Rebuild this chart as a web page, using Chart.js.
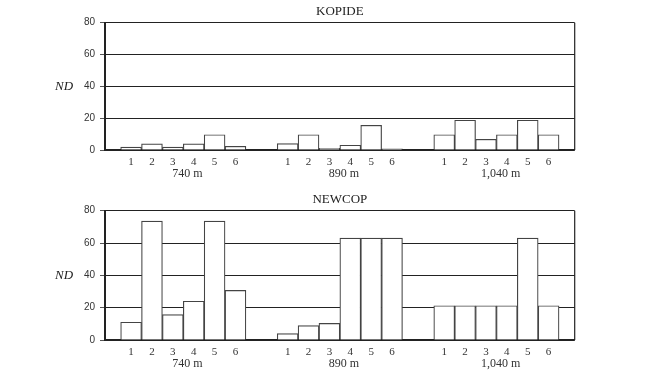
<!DOCTYPE html>
<html><head><meta charset="utf-8">
<script src="https://cdn.jsdelivr.net/npm/chart.js@4"></script>
<style>html,body{margin:0;padding:0;background:#fff;} .wrap{width:648px;height:190px;position:relative;} canvas{display:block;}</style>
</head><body>
<div class="wrap"><canvas id="c1" width="648" height="190"></canvas></div>
<div class="wrap"><canvas id="c2" width="648" height="190"></canvas></div>
<script>
// ---- data ----
const groupLabels = ['740 m', '890 m', '1,040 m'];
const siteLabels = ['1', '2', '3', '4', '5', '6'];
const yTickValues = [0, 20, 40, 60, 80];
const yAxisLabel = 'ND';

const kopide740  = [1.8, 3.8, 1.8, 3.8, 9.6, 2.3];
const kopide890  = [4, 9.6, 1, 3, 15.5, 0.8];
const kopide1040 = [9.6, 18.7, 6.7, 9.6, 18.7, 9.6];

const newcop740  = [11, 73.6, 15.7, 24, 73.6, 30.7];
const newcop890  = [3.9, 8.9, 10.3, 63, 63, 63];
const newcop1040 = [21.2, 21.2, 21.2, 21.2, 63, 21.2];

// ---- layout of the index axis (in bar units) ----
const EDGE = 0.75, GAP = 1.5, N = siteLabels.length;
const XMAX = 2 * EDGE + groupLabels.length * N + (groupLabels.length - 1) * GAP;
const groupStart = g => EDGE + g * (N + GAP);

function buildPoints(groups) {
  const pts = [];
  groups.forEach((vals, g) => vals.forEach((v, i) => pts.push({ x: groupStart(g) + i + 0.5, y: v })));
  return pts;
}
const tickVals = [];
groupLabels.forEach((_, g) => siteLabels.forEach((_, i) => tickVals.push(groupStart(g) + i + 0.5)));

const INK = '#222';
const extras = {
  id: 'extras',
  afterDraw(chart) {
    const { ctx, chartArea: a, scales: { x } } = chart;
    ctx.save();
    // right frame
    ctx.strokeStyle = INK; ctx.lineWidth = 1.2;
    ctx.beginPath(); ctx.moveTo(a.right, a.top); ctx.lineTo(a.right, a.bottom); ctx.stroke();
    // group labels
    ctx.fillStyle = '#333';
    ctx.font = '12px "Liberation Serif"';
    ctx.textAlign = 'center'; ctx.textBaseline = 'middle';
    groupLabels.forEach((lab, g) => {
      ctx.fillText(lab, x.getPixelForValue(groupStart(g) + N / 2 + 0.2), a.bottom + 24);
    });
    // y label
    ctx.font = 'italic 13px "Liberation Serif"';
    ctx.fillStyle = INK;
    ctx.fillText(yAxisLabel, a.left - 41, (a.top + a.bottom) / 2);
    ctx.restore();
  }
};

function makeChart(id, title, groups, padTop, padBottom) {
  return new Chart(document.getElementById(id), {
    type: 'bar',
    data: {
      datasets: [{
        data: buildPoints(groups),
        backgroundColor: '#fff',
        borderColor: '#444',
        borderWidth: 1.2,
        borderSkipped: 'start',
        barPercentage: 1,
        categoryPercentage: 1
      }]
    },
    options: {
      responsive: false,
      animation: false,
      events: [],
      layout: { padding: { left: 0, right: 73.3, top: 0, bottom: 0 } },
      plugins: {
        legend: { display: false },
        tooltip: { enabled: false },
        title: {
          display: true, text: title, fullSize: false,
          color: INK,
          font: { family: 'Liberation Serif', size: 13, weight: 'normal', lineHeight: 1.2 },
          padding: { top: padTop, bottom: padBottom }
        }
      },
      scales: {
        x: {
          type: 'linear', min: 0, max: XMAX, offset: false,
          grid: { display: false, drawTicks: false, offset: false },
          border: { display: true, color: INK, width: 1.5 },
          afterBuildTicks: s => { s.ticks = tickVals.map(v => ({ value: v })); },
          ticks: {
            autoSkip: false, maxRotation: 0, minRotation: 0, padding: 6.2,
            color: '#333',
            font: { family: 'Liberation Serif', size: 11, lineHeight: 1 },
            callback: (v, i) => siteLabels[i % N]
          },
          afterFit: s => { s.height = 40; }
        },
        y: {
          min: 0, max: 80,
          afterBuildTicks: s => { s.ticks = yTickValues.map(v => ({ value: v })); },
          grid: { color: INK, lineWidth: 1, drawTicks: true, tickLength: 5, tickColor: '#555' },
          border: { display: true, color: INK, width: 2 },
          ticks: { padding: 5, color: '#333', font: { family: 'Liberation Sans', size: 10 } },
          afterFit: s => { s.width = 105; }
        }
      }
    },
    plugins: [extras]
  });
}

makeChart('c1', 'KOPIDE', [kopide740, kopide890, kopide1040], 3.9, 3.2);
makeChart('c2', 'NEWCOP', [newcop740, newcop890, newcop1040], 2.2, 2.9);
</script>
</body></html>
